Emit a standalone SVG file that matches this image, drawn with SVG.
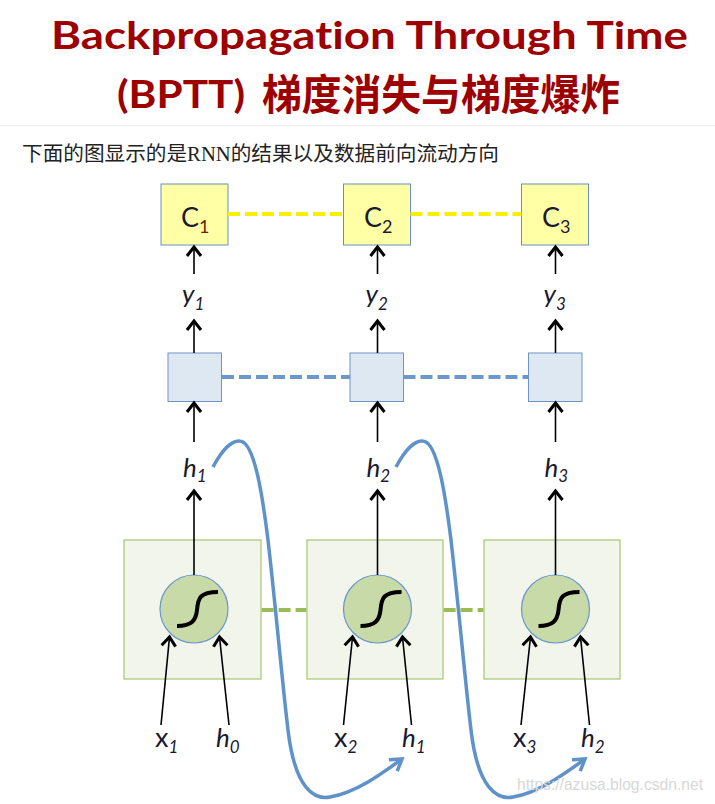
<svg xmlns="http://www.w3.org/2000/svg" width="715" height="804" viewBox="0 0 715 804">
<style>
.title{font-family:Lato,"Liberation Sans","Noto Sans CJK SC",sans-serif;font-weight:bold;fill:#9C0000;font-variant-ligatures:none}
.cjk{font-family:"Noto Sans CJK SC",sans-serif;font-weight:bold;fill:#9C0000}
.sub{font-family:"Liberation Serif","Noto Sans CJK SC",serif;font-size:20px;fill:#222}
.lbl{font-family:Lato,"Liberation Sans",sans-serif;fill:#1a1a2e}
.it{font-style:italic}
.cbox{fill:#FFFFA6;stroke:#6A8FC4;stroke-width:1}
.bbox{fill:#DEE8F2;stroke:#6F94C4;stroke-width:1}
.gbox{fill:#F2F5EC;stroke:#A8C66C;stroke-width:1.2}
.cell{fill:#C8DAA8;stroke:#6A96CC;stroke-width:1.2}
.sig{fill:none;stroke:#000;stroke-width:4;stroke-linecap:butt}
.arr{stroke:#000;stroke-width:1.6;fill:none;marker-end:url(#ah)}
.ydash{stroke:#F7F000;stroke-width:4;stroke-dasharray:12 5}
.bdash{stroke:#6A97CC;stroke-width:4;stroke-dasharray:12 5}
.gdash{stroke:#9BBB59;stroke-width:4;stroke-dasharray:12 5}
.bp{stroke:#5F92C9;stroke-width:3.5;fill:none;marker-end:url(#bh)}
</style>
<defs>
<marker id="ah" markerUnits="userSpaceOnUse" viewBox="-12 -10 14 20" markerWidth="14" markerHeight="20" refX="0" refY="0" orient="auto" overflow="visible">
<path d="M-9,-7 L0,0 L-9,7" fill="none" stroke="#000" stroke-width="3"/>
</marker>
<marker id="bh" markerUnits="userSpaceOnUse" viewBox="-14 -10 16 20" markerWidth="16" markerHeight="20" refX="0" refY="0" orient="auto" overflow="visible">
<path d="M-11,-7 L0,0 L-11,7" fill="none" stroke="#5F92C9" stroke-width="3.5"/>
</marker>
</defs>
<rect width="715" height="804" fill="#fff"/>
<g id="title">
<text class="title" x="51" y="48.5" font-size="38" textLength="637" lengthAdjust="spacingAndGlyphs">Backpropagation Through Time</text>
<text class="title" x="117" y="108" font-size="39" textLength="128" lengthAdjust="spacingAndGlyphs">(BPTT)</text>
<text class="cjk" x="262" y="110" font-size="42" textLength="358" lengthAdjust="spacingAndGlyphs">梯度消失与梯度爆炸</text>
<line x1="0" y1="125.5" x2="715" y2="125.5" stroke="#ebebeb" stroke-width="1"/>
<text class="sub" x="22" y="161" textLength="477" lengthAdjust="spacingAndGlyphs">下面的图显示的是RNN的结果以及数据前向流动方向</text>
</g>
<g id="C1"><rect class="cbox" x="161" y="184" width="67" height="61"/><text class="lbl" x="181" y="227" font-size="27">C<tspan font-size="18" dy="6" fill="#6b2200">1</tspan></text></g>
<g id="C2"><rect class="cbox" x="343.5" y="184" width="67" height="61"/><text class="lbl" x="364" y="227" font-size="27">C<tspan font-size="18" dy="6">2</tspan></text></g>
<g id="C3"><rect class="cbox" x="521.5" y="184" width="67" height="61"/><text class="lbl" x="542" y="227" font-size="27">C<tspan font-size="18" dy="6">3</tspan></text></g>
<g id="y1"><text class="lbl it" x="182" y="303" font-size="26">y<tspan font-size="17" dy="7">1</tspan></text></g>
<g id="y2"><text class="lbl it" x="365.5" y="303" font-size="26">y<tspan font-size="17" dy="7">2</tspan></text></g>
<g id="y3"><text class="lbl it" x="543.5" y="303" font-size="26">y<tspan font-size="17" dy="7">3</tspan></text></g>
<g id="B1"><rect class="bbox" x="168" y="353" width="53.5" height="48.5"/></g>
<g id="B2"><rect class="bbox" x="350" y="353" width="53.5" height="48.5"/></g>
<g id="B3"><rect class="bbox" x="528.5" y="353" width="53.5" height="48.5"/></g>
<g id="h1"><text class="lbl it" x="183" y="477" font-size="26">h<tspan font-size="17" dy="5">1</tspan></text></g>
<g id="h2"><text class="lbl it" x="366.5" y="477" font-size="26">h<tspan font-size="17" dy="5">2</tspan></text></g>
<g id="h3"><text class="lbl it" x="544.5" y="477" font-size="26">h<tspan font-size="17" dy="5">3</tspan></text></g>
<g id="G1"><rect class="gbox" x="124" y="540" width="137" height="139"/><circle class="cell" cx="194" cy="609" r="34"/><path class="sig" d="M177,626 C192,626 196,620 197,610 C198,598 200,592 218,592"/></g>
<g id="G2"><rect class="gbox" x="307" y="540" width="136" height="139"/><circle class="cell" cx="377.5" cy="609" r="34"/><path class="sig" d="M360.5,626 C375.5,626 379.5,620 380.5,610 C381.5,598 383.5,592 401.5,592"/></g>
<g id="G3"><rect class="gbox" x="484" y="540" width="136" height="139"/><circle class="cell" cx="555.5" cy="609" r="34"/><path class="sig" d="M538.5,626 C553.5,626 557.5,620 558.5,610 C559.5,598 561.5,592 579.5,592"/></g>
<g id="x1"><text class="lbl" x="155" y="747" font-size="27">x<tspan class="it" font-size="17" dy="6">1</tspan></text></g>
<g id="h0"><text class="lbl it" x="216" y="747" font-size="26">h<tspan font-size="17" dy="6">0</tspan></text></g>
<g id="x2"><text class="lbl" x="334" y="747" font-size="27">x<tspan class="it" font-size="17" dy="6">2</tspan></text></g>
<g id="h1b"><text class="lbl it" x="402" y="747" font-size="26">h<tspan font-size="17" dy="6">1</tspan></text></g>
<g id="x3"><text class="lbl" x="513" y="747" font-size="27">x<tspan class="it" font-size="17" dy="6">3</tspan></text></g>
<g id="h2b"><text class="lbl it" x="581" y="747" font-size="26">h<tspan font-size="17" dy="6">2</tspan></text></g>
<g id="connectors">
<line class="ydash" x1="228" y1="214" x2="343.5" y2="214"/>
<line class="ydash" x1="410.5" y1="214" x2="521.5" y2="214"/>
<line class="bdash" x1="222" y1="377" x2="350" y2="377"/>
<line class="bdash" x1="403.5" y1="377" x2="528.5" y2="377"/>
<line class="gdash" x1="261.6" y1="610" x2="306.4" y2="610"/>
<line class="gdash" x1="443.6" y1="610" x2="483.4" y2="610"/>
<line class="arr" x1="194" y1="274" x2="194" y2="247"/>
<line class="arr" x1="377.5" y1="274" x2="377.5" y2="247"/>
<line class="arr" x1="555.5" y1="274" x2="555.5" y2="247"/>
<line class="arr" x1="194" y1="353" x2="194" y2="321"/>
<line class="arr" x1="377.5" y1="353" x2="377.5" y2="321"/>
<line class="arr" x1="555.5" y1="353" x2="555.5" y2="321"/>
<line class="arr" x1="194" y1="442" x2="194" y2="403"/>
<line class="arr" x1="377.5" y1="442" x2="377.5" y2="403"/>
<line class="arr" x1="555.5" y1="442" x2="555.5" y2="403"/>
<line class="arr" x1="194" y1="575" x2="194" y2="491"/>
<line class="arr" x1="377.5" y1="575" x2="377.5" y2="491"/>
<line class="arr" x1="555.5" y1="575" x2="555.5" y2="491"/>
<line class="arr" x1="161" y1="725" x2="169.5" y2="637"/>
<line class="arr" x1="229" y1="725" x2="219.5" y2="637"/>
<line class="arr" x1="343.5" y1="725" x2="352.5" y2="637"/>
<line class="arr" x1="411.5" y1="725" x2="402.5" y2="637"/>
<line class="arr" x1="521" y1="725" x2="530.5" y2="637"/>
<line class="arr" x1="589.5" y1="725" x2="580.5" y2="637"/>
<path class="bp" d="M213,467 C222,450 232,440 240,441 C255,442 263,500 268,540 C276,610 282,680 288,730 C295,790 315,800 330,797 C355,793 380,775 402,759"/>
<path class="bp" d="M396,467 C405,450 415,440 423,441 C438,442 446,500 451,540 C459,610 465,680 471,730 C478,790 498,800 513,797 C538,793 563,775 585,759"/>
</g>
<text x="517" y="790" font-family="'Liberation Sans',Arial,sans-serif" font-size="17" fill="#d8d8d8" textLength="186" lengthAdjust="spacingAndGlyphs">https://azusa.blog.csdn.net</text>
</svg>
